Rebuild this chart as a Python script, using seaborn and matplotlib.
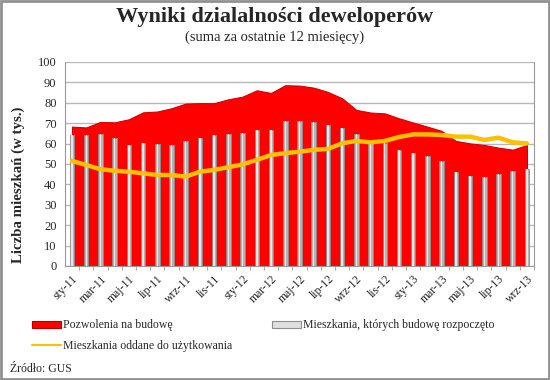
import numpy as np
import pandas as pd
import matplotlib
matplotlib.use("Agg")
import matplotlib.pyplot as plt
import seaborn as sns
from matplotlib.patches import Patch, Rectangle
from matplotlib.lines import Line2D

# ──────────────────────────────────────────────
# data (thousands of dwellings, 12-month rolling sums)
# ──────────────────────────────────────────────
months = ["sty", "lut", "mar", "kwi", "maj", "cze", "lip", "sie", "wrz", "paź", "lis", "gru"]
periods = [f"{m}-{y}" for y in ("11", "12") for m in months] + [f"{m}-13" for m in months[:9]]

permits = [68.3, 67.9, 70.6, 70.4, 71.9, 75.3, 75.7, 77.3, 79.6, 79.8, 79.8, 81.7,
           83.0, 86.1, 84.8, 88.6, 88.4, 87.4, 85.3, 82.2, 76.5, 75.2, 74.8, 72.4,
           70.3, 68.3, 66.2, 61.3, 60.1, 59.3, 58.0, 57.0, 59.3]
started = [64.2, 64.2, 64.9, 62.9, 59.3, 60.3, 59.7, 59.3, 61.3, 62.6, 64.2, 64.9,
           65.2, 66.5, 66.8, 71.0, 71.2, 70.8, 69.1, 67.8, 64.7, 61.3, 60.1, 57.0,
           55.6, 53.9, 51.5, 46.2, 44.3, 43.5, 45.1, 46.6, 47.5]
completed = [51.5, 49.5, 47.4, 46.7, 46.2, 45.4, 44.6, 44.6, 43.8, 46.2, 47.1, 48.4,
             49.8, 52.0, 54.4, 55.3, 56.0, 56.9, 57.4, 60.1, 61.3, 60.6, 61.3, 63.2,
             64.5, 64.5, 64.2, 63.4, 63.4, 61.8, 62.9, 60.6, 60.1]

tick_every = 2

RED = "#ff0000"
GREY = "#b4b4b4"
YELLOW = "#ffc000"
SERIF = ["Liberation Serif", "DejaVu Serif"]

df = pd.DataFrame({"okres": periods, "pozwolenia": permits,
                   "rozpoczete": started, "oddane": completed})
df["x"] = np.arange(len(df))

sns.set_style("white")
plt.rcParams["font.family"] = SERIF

fig = plt.figure(figsize=(5.5, 3.8), dpi=100)
ax = fig.add_axes([0.118, 0.30, 0.853, 0.537])

# red area behind everything
ax.fill_between(df["x"], 0, df["pozwolenia"], color=RED, edgecolor="#d00000",
                linewidth=0.8, zorder=1)

# grey columns
sns.barplot(data=df, x="okres", y="rozpoczete", color=GREY, width=0.32,
            saturation=1, edgecolor="#8c8c8c", linewidth=0.6, ax=ax, zorder=2)
# light highlight stripe to mimic the cylinder look
sns.barplot(data=df, x="okres", y="rozpoczete", color="#e6e6e6", width=0.1,
            saturation=1, linewidth=0, ax=ax, zorder=3)

# yellow line
sns.lineplot(data=df, x="x", y="oddane", color=YELLOW, linewidth=3.2,
             ax=ax, zorder=4)

ax.set_xlim(-0.5, len(df) - 0.5)
ax.set_ylim(0, 100)
ax.set_yticks(range(0, 101, 10))
ax.yaxis.grid(True, color="#b8b8b8", linewidth=1)
ax.set_axisbelow(True)

ax.set_xticks(df["x"][::tick_every])
ax.set_xticklabels(df["okres"][::tick_every], rotation=45, ha="right",
                   rotation_mode="anchor", fontsize=8.5)
ax.set_xticks(df["x"] + 0.5, minor=True)
ax.tick_params(axis="x", which="major", length=0, pad=5)
ax.tick_params(axis="x", which="minor", length=3, color="#999999", bottom=True)
ax.tick_params(axis="y", labelsize=9, length=0, pad=6)
ax.set_xlabel("")
ax.set_ylabel("")

for side in ("left", "bottom", "right"):
    ax.spines[side].set_color("#999999")
ax.spines["top"].set_visible(False)

fig.text(0.033, 0.513, "Liczba mieszkań (w tys.)", rotation=90, ha="center",
         va="center", fontsize=10.7, fontweight="bold")
fig.text(0.5, 0.955, "Wyniki dzialalności deweloperów", ha="center", va="center",
         fontsize=16, fontweight="bold")
fig.text(0.5, 0.903, "(suma za ostatnie 12 miesięcy)", ha="center", va="center",
         fontsize=10.5)

handles = [
    Patch(facecolor=RED, edgecolor="#b00000", linewidth=0.8),
    Line2D([0], [0], color=YELLOW, linewidth=1.5),
    Patch(facecolor="#e0e0e0", edgecolor="#909090", linewidth=0.8),
]
labels = ["Pozwolenia na budowę", "Mieszkania oddane do użytkowania",
          "Mieszkania, których budowę rozpoczęto"]
fig.legend(handles, labels, ncol=2, loc="upper left", bbox_to_anchor=(0.05, 0.172),
           frameon=False, fontsize=8.5, handlelength=2.4, handleheight=0.55,
           handletextpad=0.2, columnspacing=3.4, labelspacing=0.75, borderaxespad=0)

fig.text(0.018, 0.028, "Źródło: GUS", fontsize=8.5, ha="left", va="center")

fig.patches.append(Rectangle((0.002, 0.003), 0.996, 0.994, transform=fig.transFigure,
                             fill=False, edgecolor="#909090", linewidth=2))

plt.savefig("out.png", dpi=100)
